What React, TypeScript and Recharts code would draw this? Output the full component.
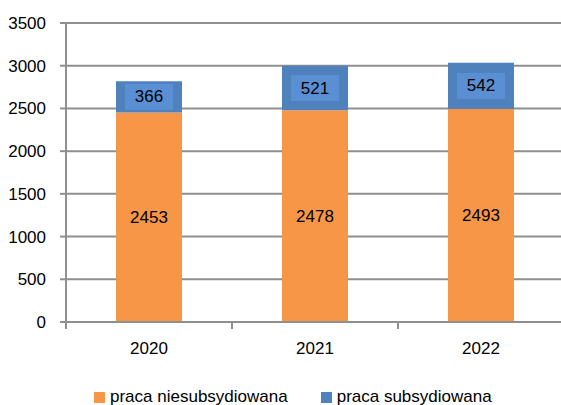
import React from 'react';
import { BarChart, Bar, XAxis, YAxis, CartesianGrid, LabelList, Legend } from 'recharts';

const years = ['2020', '2021', '2022'];
const niesubsydiowana = [2453, 2478, 2493];
const subsydiowana = [366, 521, 542];
const yTicks = [0, 500, 1000, 1500, 2000, 2500, 3000, 3500];

const data = years.map((y, i) => ({ year: y, nies: niesubsydiowana[i], subs: subsydiowana[i] }));

const FONT = '"Liberation Sans", Arial, sans-serif';
const ORANGE = '#F79646';
const BLUE = '#4F81BD';
const BLUE_LIGHT = '#5A8FD4';
const GRID = '#8F8F8F';
const HALF_BAND = 83;
const AXIS_Y = 322;

const BlueLabel = (props: any) => {
  const { x, y, width, height, value } = props;
  const cx = x + width / 2;
  const cy = y + height / 2;
  const bw = 48;
  const bh = Math.min(26, height);
  return (
    <g>
      <rect x={cx - bw / 2} y={cy - bh / 2} width={bw} height={bh} fill={BLUE_LIGHT} />
      <text x={cx} y={cy} textAnchor="middle" dominantBaseline="central" fontSize={17} fontFamily={FONT} fill="#000">
        {value}
      </text>
    </g>
  );
};

const OrangeLabel = (props: any) => {
  const { x, y, width, height, value } = props;
  return (
    <text x={x + width / 2} y={y + height / 2} textAnchor="middle" dominantBaseline="central" fontSize={17} fontFamily={FONT} fill="#000">
      {value}
    </text>
  );
};

const CatTick = (props: any) => {
  const { x, y, payload, index, visibleTicksCount } = props;
  const last = index === (visibleTicksCount ?? years.length) - 1;
  return (
    <g>
      <line x1={x - HALF_BAND} x2={x - HALF_BAND} y1={AXIS_Y} y2={AXIS_Y + 7} stroke={GRID} strokeWidth={2} />
      {last && <line x1={x + HALF_BAND} x2={x + HALF_BAND} y1={AXIS_Y} y2={AXIS_Y + 7} stroke={GRID} strokeWidth={2} />}
      <text x={x} y={y} dy="0.71em" textAnchor="middle" fontSize={17} fontFamily={FONT} fill="#000">
        {payload.value}
      </text>
    </g>
  );
};

const LegendContent = () => (
  <div style={{ display: 'flex', alignItems: 'center', paddingLeft: 94, fontFamily: FONT, fontSize: 17, height: 20, color: '#000' }}>
    <span style={{ width: 11, height: 11, background: ORANGE, display: 'inline-block', marginRight: 5 }} />
    <span style={{ marginRight: 33 }}>praca niesubsydiowana</span>
    <span style={{ width: 11, height: 11, background: BLUE, display: 'inline-block', marginRight: 5 }} />
    <span>praca subsydiowana</span>
  </div>
);

export default function App() {
  return (
    <div style={{ position: 'absolute', left: 0, top: 0, width: 561, height: 405, overflow: 'hidden', background: '#fff' }}>
      <BarChart width={570} height={405} data={data} margin={{ top: 23, right: 6, left: 0, bottom: -2 }} barCategoryGap={0}>
        <CartesianGrid vertical={false} stroke={GRID} strokeWidth={2} />
        <XAxis
          dataKey="year"
          height={65}
          axisLine={{ stroke: GRID, strokeWidth: 2 }}
          tickLine={false}
          tick={<CatTick />}
          tickMargin={14}
        />
        <YAxis
          width={66}
          domain={[0, 3500]}
          ticks={yTicks}
          interval={0}
          axisLine={{ stroke: GRID, strokeWidth: 2 }}
          tickLine={{ stroke: GRID, strokeWidth: 2 }}
          tickSize={6}
          tickMargin={14}
          tick={{ fontSize: 17, fontFamily: FONT, fill: '#000' }}
        />
        <Legend verticalAlign="bottom" align="left" content={<LegendContent />} wrapperStyle={{ left: 0, width: 561 }} />
        <Bar dataKey="nies" name="praca niesubsydiowana" stackId="a" fill={ORANGE} barSize={66} isAnimationActive={false}>
          <LabelList dataKey="nies" content={<OrangeLabel />} />
        </Bar>
        <Bar dataKey="subs" name="praca subsydiowana" stackId="a" fill={BLUE} barSize={66} isAnimationActive={false}>
          <LabelList dataKey="subs" content={<BlueLabel />} />
        </Bar>
      </BarChart>
    </div>
  );
}
